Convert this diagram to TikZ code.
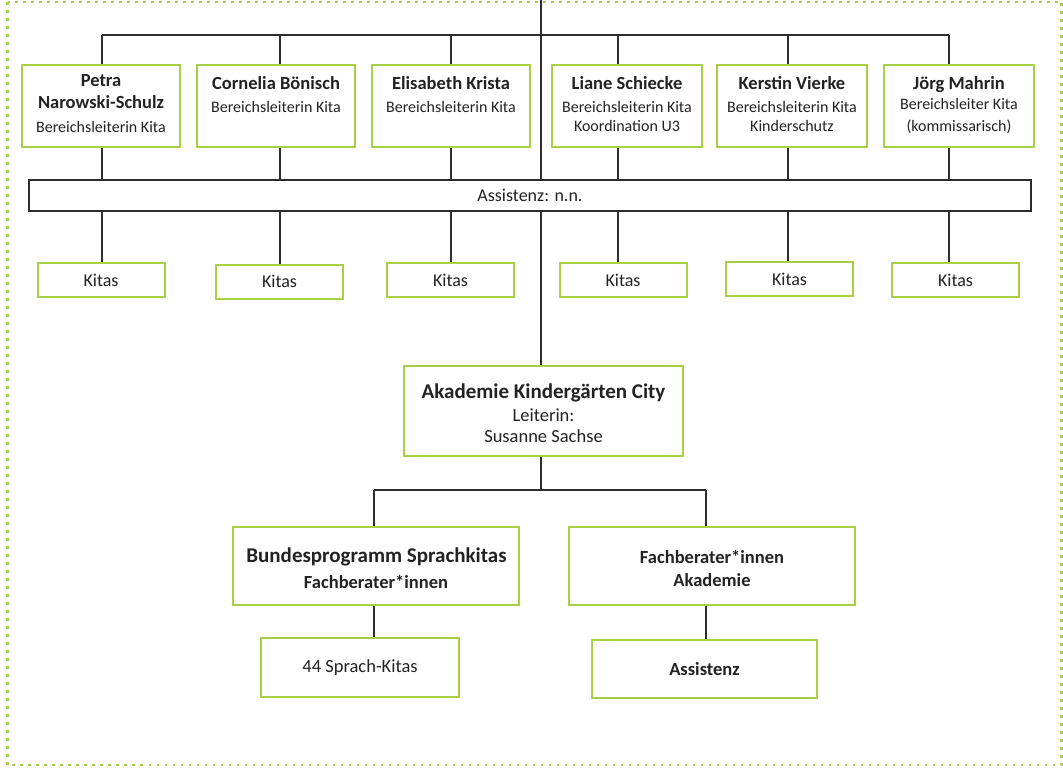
\documentclass[tikz,border=0pt]{standalone}
\usepackage{fontspec}
\setmainfont{Carlito}
\definecolor{kgreen}{RGB}{168,208,70}
\definecolor{ink}{RGB}{34,34,34}
\definecolor{wirec}{RGB}{45,45,45}
\begin{document}
\begin{tikzpicture}[x=1pt,y=-1pt,
  box/.style={draw=kgreen, line width=2pt, fill=white, inner sep=0pt, text=ink},
  wire/.style={draw=wirec, line width=1.5pt},
  nm/.style={font=\fontsize{18.5}{22}\selectfont\bfseries, text=ink, anchor=base, inner sep=0pt},
  sub/.style={font=\fontsize{16}{19}\selectfont, text=ink, anchor=base, inner sep=0pt},
  big/.style={font=\fontsize{21}{25}\selectfont\bfseries, text=ink, anchor=base, inner sep=0pt},
  reg/.style={font=\fontsize{18.5}{22}\selectfont, text=ink, anchor=base, inner sep=0pt},
  kita/.style={box, minimum width=127pt, minimum height=34pt, font=\fontsize{18}{22}\selectfont}]
\useasboundingbox (0,0) rectangle (1063,768);
\draw[kgreen, line width=2.6pt, dash pattern=on 2.6pt off 5.4pt] (7.5,2) rectangle (1061.5,765);

% coordinates of wires
\coordinate (top) at (541,0);
\coordinate (hl) at (102,35);
\coordinate (hr) at (949,35);
\coordinate (x1) at (102,35);
\coordinate (x2) at (280,35);
\coordinate (x3) at (451,35);
\coordinate (x4) at (618,35);
\coordinate (x5) at (788,35);
\coordinate (x6) at (949,35);

% top boxes
\node[box, minimum width=158pt, minimum height=82pt] (b1) at (101,106) {};
\node[box, minimum width=158pt, minimum height=82pt] (b2) at (276,106) {};
\node[box, minimum width=158pt, minimum height=82pt] (b3) at (451,106) {};
\node[box, minimum width=150pt, minimum height=82pt] (b4) at (627,106) {};
\node[box, minimum width=150pt, minimum height=82pt] (b5) at (792,106) {};
\node[box, minimum width=150pt, minimum height=82pt] (b6) at (959,106) {};

% Kitas boxes
\node[kita] (k1) at (101,280) {Kitas};
\node[kita] (k2) at (279.5,281.5) {Kitas};
\node[kita] (k3) at (450.5,280) {Kitas};
\node[kita] (k4) at (623,280) {Kitas};
\node[kita] (k5) at (789.5,279) {Kitas};
\node[kita] (k6) at (955.5,280) {Kitas};

% lower boxes
\node[box, minimum width=279pt, minimum height=90pt] (ak) at (543.5,411) {};
\node[box, minimum width=286pt, minimum height=78pt] (bp) at (376,566) {};
\node[box, minimum width=286pt, minimum height=78pt] (fa) at (712,566) {};
\node[box, minimum width=198pt, minimum height=59pt, font=\fontsize{18.5}{22}\selectfont] (sk) at (360,667.5) {44 Sprach-Kitas};
\node[box, minimum width=225pt, minimum height=58pt, font=\fontsize{18.5}{22}\selectfont\bfseries] (as) at (704.5,669) {Assistenz};

% wires
\draw[wire] (top) -- (top |- ak.north);
\draw[wire] (hl) -- (hr);
\foreach \i in {1,...,6}{
  \draw[wire] (x\i) -- (x\i |- b\i.north);
  \draw[wire] (x\i |- b\i.south) -- (x\i |- 0,180);
  \draw[wire] (x\i |- 0,211) -- (x\i |- k\i.north);
}
% bar (drawn over the main wire)
\node[draw=wirec, line width=2pt, fill=white, minimum width=1002pt, minimum height=31pt, inner sep=0pt,
  font=\fontsize{18}{22}\selectfont, text=ink] (bar) at (530,195.5) {Assistenz: n.n.};
\draw[wire] (top |- bar.south) -- (top |- ak.north);

\coordinate (fl) at (374,490);
\coordinate (fr) at (706,490);
\draw[wire] (top |- ak.south) -- (top |- fl);
\draw[wire] (fl) -- (fr);
\draw[wire] (fl) -- (fl |- bp.north);
\draw[wire] (fr) -- (fr |- fa.north);
\draw[wire] (fl |- bp.south) -- (fl |- sk.north);
\draw[wire] (fr |- fa.south) -- (fr |- as.north);

% texts of top boxes
\node[nm] (t1a) at (101,87) {Petra};
\node[nm] (t1b) at (101,108) {Narowski-Schulz};
\node[sub] (t1c) at (101,132) {Bereichsleiterin Kita};
\node[nm] (t2a) at (276,89) {Cornelia Bönisch};
\node[sub] (t2b) at (276,112) {Bereichsleiterin Kita};
\node[nm] (t3a) at (451,89) {Elisabeth Krista};
\node[sub] (t3b) at (451,112) {Bereichsleiterin Kita};
\node[nm] (t4a) at (627,89) {Liane Schiecke};
\node[sub] (t4b) at (627,112) {Bereichsleiterin Kita};
\node[sub] (t4c) at (627,131) {Koordination U3};
\node[nm] (t5a) at (792,89) {Kerstin Vierke};
\node[sub] (t5b) at (792,112) {Bereichsleiterin Kita};
\node[sub] (t5c) at (792,131) {Kinderschutz};
\node[nm] (t6a) at (959,89) {Jörg Mahrin};
\node[sub] (t6b) at (959,109) {Bereichsleiter Kita};
\node[sub] (t6c) at (959,131) {(kommissarisch)};

% lower texts
\node[big] (ta1) at (543.5,398) {Akademie Kindergärten City};
\node[reg] (ta2) at (543.5,421) {Leiterin:};
\node[reg] (ta3) at (543.5,442) {Susanne Sachse};
\node[big] (tb1) at (376.5,562) {Bundesprogramm Sprachkitas};
\node[nm] (tb2) at (376,588) {Fachberater*innen};
\node[nm] (tf1) at (712,563) {Fachberater*innen};
\node[nm] (tf2) at (712,586) {Akademie};
\end{tikzpicture}
\end{document}
